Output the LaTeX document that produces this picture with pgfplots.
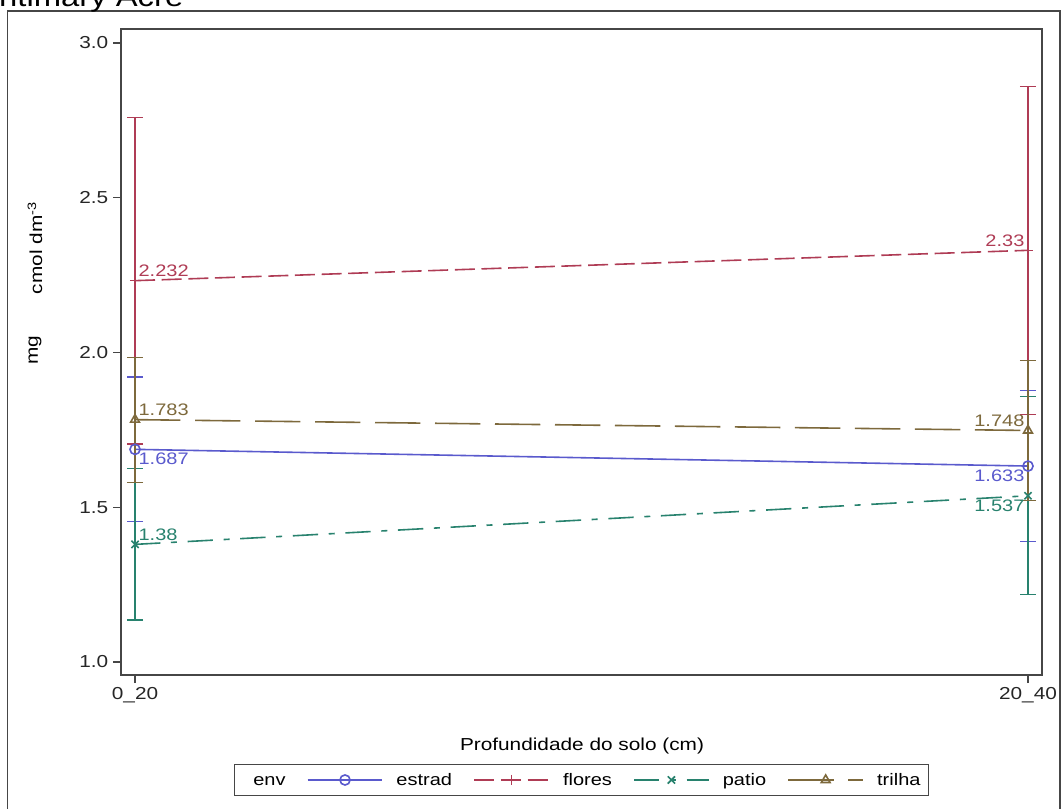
\documentclass[border=0pt]{standalone}
\usepackage{pgfplots}
\pgfplotsset{compat=1.18}
\usepackage{fontspec}
\setmainfont[FakeStretch=1.2]{Liberation Sans}

\definecolor{cest}{RGB}{90,90,205}
\definecolor{cflo}{RGB}{175,60,85}
\definecolor{cpat}{RGB}{40,130,110}
\definecolor{ctri}{RGB}{125,105,60}
\definecolor{axgray}{RGB}{70,70,70}

\pgfplotsset{
  ser/.style={
    color=#1, line width=1.2pt, mark size=3.8pt, mark options={solid},
    error bars/y dir=both, error bars/y explicit,
    error bars/error bar style={solid, line width=0.9pt, draw=#1},
    error bars/error mark options={solid, line width=0.9pt, mark size=6pt, draw=#1, rotate=90},
  },
  lab/.style 2 args={
    draw=none, mark=none, forget plot,
    point meta=explicit symbolic, nodes near coords,
    every node near coord/.style={anchor=#2, font=\fontsize{12.5}{14}\selectfont, inner sep=2.5pt, text=#1},
  }
}

\begin{document}
\begin{tikzpicture}
\useasboundingbox (0,0) rectangle (796.5pt,606pt);
\clip (0,0) rectangle (796.5pt,606pt);
\draw[line width=1pt, axgray] (5.5pt,-5pt) -- (5.5pt,597.75pt) -- (795pt,597.75pt) -- (795pt,-5pt);
\node[anchor=base east, font=\fontsize{20.5}{24}\selectfont] at (141pt,600.75pt) {Antimary Acre};
\begin{axis}[
  at={(90.75pt,99.75pt)}, anchor=south west,
  scale only axis, width=690.75pt, height=484.5pt,
  xmin=-0.0157, xmax=1.0157, ymin=0.958, ymax=3.045,
  xtick={0,1}, xticklabels={0\_20,20\_40},
  ytick={1,1.5,2,2.5,3},
  yticklabel style={/pgf/number format/fixed, /pgf/number format/fixed zerofill, /pgf/number format/precision=1},
  /pgf/number format/assume math mode=true,
  tick align=outside, tick pos=left, major tick length=6pt,
  axis line style={draw=axgray, line width=1.1pt},
  tick style={draw=axgray, line width=1pt},
  ticklabel style={font=\fontsize{13}{15}\selectfont, text=black!85},
  clip=false,
  legend columns=-1,
  legend style={at={(0.5,-0.1625)}, anchor=center, draw=axgray, line width=1pt,
    font=\fontsize{12.5}{14}\selectfont, inner xsep=4pt, inner ysep=4pt,
    /tikz/every odd column/.append style={column sep=8pt},
    /tikz/every even column/.append style={column sep=14pt}},
  legend image code/.code={\draw[mark repeat=2,mark phase=2,#1] plot coordinates {(0pt,0pt) (28pt,0pt) (56pt,0pt)};},
]
\addlegendimage{legend image code/.code={\path[draw=none,fill=none] (0pt,-3.8pt) rectangle (0.1pt,3.8pt);}}
\addlegendentry{\strut env\hspace{14pt}}
\addplot[ser=cest, solid, mark=o] coordinates {(0,1.687) +- (0,0.234) (1,1.633) +- (0,0.243)};
\addlegendentry{\strut estrad}
\addplot[ser=cflo, dash pattern=on 15pt off 5pt, mark=+] coordinates {(0,2.232) +- (0,0.528) (1,2.33) +- (0,0.530)};
\addlegendentry{\strut flores}
\addplot[ser=cpat, dash pattern=on 19pt off 8pt on 4.5pt off 8pt, mark=x] coordinates {(0,1.38) +- (0,0.244) (1,1.537) +- (0,0.320)};
\addlegendentry{\strut patio}
\addplot[ser=ctri, dash pattern=on 34pt off 11pt, mark=triangle] coordinates {(0,1.783) +- (0,0.202) (1,1.748) +- (0,0.226)};
\addlegendentry{\strut trilha}
% value labels
\addplot[lab={cest}{north west}] coordinates {(0,1.687) [1.687]};
\addplot[lab={cest}{north east}] coordinates {(1,1.633) [1.633]};
\addplot[lab={cflo}{south west}] coordinates {(0,2.232) [2.232]};
\addplot[lab={cflo}{south east}] coordinates {(1,2.33) [2.33]};
\addplot[lab={cpat}{south west}] coordinates {(0,1.38) [1.38]};
\addplot[lab={cpat}{north east}] coordinates {(1,1.537) [1.537]};
\addplot[lab={ctri}{south west}] coordinates {(0,1.783) [1.783]};
\addplot[lab={ctri}{south east}] coordinates {(1,1.748) [1.748]};
\end{axis}
\node[font=\fontsize{13}{15}\selectfont] at (436.5pt,46.5pt) {Profundidade do solo (cm)};
\node[rotate=90, font=\fontsize{13}{15}\selectfont] at (26.25pt,420pt) {cmol dm\textsuperscript{-3}};
\node[rotate=90, font=\fontsize{13}{15}\selectfont] at (26.25pt,343.5pt) {mg};
\end{tikzpicture}
\end{document}
